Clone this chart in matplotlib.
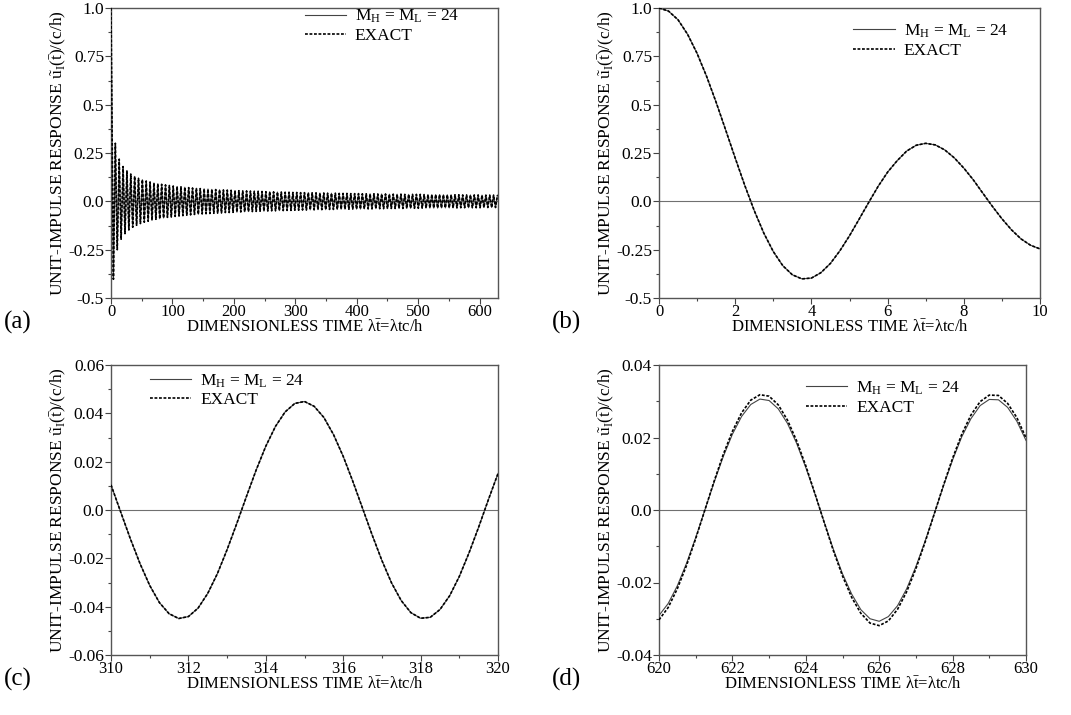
import numpy as np
import matplotlib
matplotlib.use("Agg")
import matplotlib.pyplot as plt
from matplotlib.ticker import MultipleLocator, FixedLocator, FixedFormatter

plt.rcParams['font.family'] = 'Liberation Serif'
plt.rcParams['mathtext.fontset'] = 'custom'
plt.rcParams['mathtext.rm'] = 'Liberation Serif'
plt.rcParams['mathtext.it'] = 'Liberation Serif:italic'
plt.rcParams['font.size'] = 12.5

W, H = 1071, 715

# (a) long run 0..630: start value, then successive peaks/troughs of the response
a_u = [1.000,
    -0.403, 0.300, -0.250, 0.218, -0.196, 0.180, -0.167, 0.157, -0.148, 0.141,
    -0.134, 0.129, -0.124, 0.119, -0.115, 0.112, -0.108, 0.105, -0.103, 0.100,
    -0.098, 0.095, -0.093, 0.091, -0.090, 0.088, -0.086, 0.085, -0.083, 0.082,
    -0.081, 0.079, -0.078, 0.077, -0.076, 0.075, -0.074, 0.073, -0.072, 0.071,
    -0.070, 0.069, -0.068, 0.068, -0.067, 0.066, -0.065, 0.065, -0.064, 0.064,
    -0.063, 0.062, -0.062, 0.061, -0.061, 0.060, -0.060, 0.059, -0.058, 0.058,
    -0.058, 0.057, -0.057, 0.056, -0.056, 0.055, -0.055, 0.054, -0.054, 0.054,
    -0.053, 0.053, -0.053, 0.052, -0.052, 0.052, -0.051, 0.051, -0.051, 0.050,
    -0.050, 0.050, -0.049, 0.049, -0.049, 0.048, -0.048, 0.048, -0.048, 0.047,
    -0.047, 0.047, -0.047, 0.046, -0.046, 0.046, -0.046, 0.045, -0.045, 0.045,
    -0.045, 0.045, -0.044, 0.044, -0.044, 0.044, -0.043, 0.043, -0.043, 0.043,
    -0.043, 0.042, -0.042, 0.042, -0.042, 0.042, -0.042, 0.041, -0.041, 0.041,
    -0.041, 0.041, -0.041, 0.040, -0.040, 0.040, -0.040, 0.040, -0.040, 0.039,
    -0.039, 0.039, -0.039, 0.039, -0.039, 0.039, -0.038, 0.038, -0.038, 0.038,
    -0.038, 0.038, -0.038, 0.037, -0.037, 0.037, -0.037, 0.037, -0.037, 0.037,
    -0.037, 0.036, -0.036, 0.036, -0.036, 0.036, -0.036, 0.036, -0.036, 0.036,
    -0.035, 0.035, -0.035, 0.035, -0.035, 0.035, -0.035, 0.035, -0.035, 0.035,
    -0.034, 0.034, -0.034, 0.034, -0.034, 0.034, -0.034, 0.034, -0.034, 0.034,
    -0.033, 0.033, -0.033, 0.033, -0.033, 0.033, -0.033, 0.033, -0.033, 0.033,
    -0.033, 0.032, -0.032, 0.032, -0.032, 0.032, -0.032, 0.032, -0.032, 0.032]
a_t = np.concatenate([[0.0], np.linspace(3.93, 629.1, len(a_u) - 1)])

# (b) early response 0..10
b_t = np.linspace(0, 10, 41)
b_u = [1.000, 0.984, 0.939, 0.864, 0.765, 0.646, 0.512, 0.369, 0.224, 0.083,
       -0.048, -0.164, -0.260, -0.333, -0.380, -0.401, -0.397, -0.369, -0.321, -0.255,
       -0.178, -0.093, -0.007, 0.077, 0.151, 0.210, 0.260, 0.290, 0.300, 0.292,
       0.266, 0.225, 0.172, 0.111, 0.042, -0.026, -0.090, -0.147, -0.194, -0.227,
       -0.246]

# (c) 310..320
c_t = np.linspace(310, 320, 41)
c_u = [0.0104, -0.0008, -0.0119, -0.0222, -0.0312, -0.0383, -0.0429, -0.0449, -0.0441, -0.0406,
       -0.0345, -0.0263, -0.0164, -0.0056, 0.0056, 0.0165, 0.0264, 0.0346, 0.0406, 0.0441,
       0.0449, 0.0429, 0.0383, 0.0312, 0.0222, 0.0118, 0.0007, -0.0104, -0.0209, -0.0302,
       -0.0375, -0.0425, -0.0448, -0.0444, -0.0412, -0.0355, -0.0275, -0.0178, -0.0071, 0.0042,
       0.0151]

# (d) 620..630, approximation and exact differ slightly at the extremes
d_t = np.linspace(620, 630, 41)
d_exact = [-0.0303, -0.0269, -0.0217, -0.0153, -0.0079, 0.0000, 0.0079, 0.0153, 0.0217, 0.0268,
           0.0303, 0.0318, 0.0314, 0.0290, 0.0248, 0.0191, 0.0122, 0.0045, -0.0034, -0.0112,
           -0.0182, -0.0241, -0.0285, -0.0312, -0.0319, -0.0306, -0.0274, -0.0225, -0.0162, -0.0089,
           -0.0011, 0.0068, 0.0143, 0.0209, 0.0262, 0.0299, 0.0317, 0.0316, 0.0294, 0.0255,
           0.0199]
d_m24 = [-0.0291, -0.0258, -0.0209, -0.0147, -0.0076, 0.0000, 0.0076, 0.0147, 0.0209, 0.0258,
         0.0291, 0.0306, 0.0302, 0.0279, 0.0239, 0.0184, 0.0117, 0.0044, -0.0033, -0.0108,
         -0.0176, -0.0232, -0.0275, -0.0300, -0.0307, -0.0294, -0.0264, -0.0217, -0.0156, -0.0086,
         -0.0010, 0.0066, 0.0138, 0.0202, 0.0252, 0.0288, 0.0305, 0.0304, 0.0283, 0.0245,
         0.0192]

yticks_ab = [-0.5, -0.25, 0.0, 0.25, 0.5, 0.75, 1.0]
ylabels_ab = ['-0.5', '-0.25', '0.0', '0.25', '0.5', '0.75', '1.0']
yticks_c = [-0.06, -0.04, -0.02, 0.0, 0.02, 0.04, 0.06]
ylabels_c = ['-0.06', '-0.04', '-0.02', '0.0', '0.02', '0.04', '0.06']
yticks_d = [-0.04, -0.02, 0.0, 0.02, 0.04]
ylabels_d = ['-0.04', '-0.02', '0.0', '0.02', '0.04']

lab_m24 = r'M$_\mathrm{H}$ = M$_\mathrm{L}$ = 24'
lab_exact = 'EXACT'
xlab = r'DIMENSIONLESS TIME $\mathrm{\lambda\bar{t}}$=$\mathrm{\lambda}$tc/h'
ylab = r'UNIT-IMPULSE RESPONSE $\mathrm{\tilde{u}_I(\bar{t})}$/(c/h)'

fig = plt.figure(figsize=(W / 100, H / 100), dpi=100)


def box(left, top, right, bottom):
    return [left / W, 1 - bottom / H, (right - left) / W, (bottom - top) / H]


def panel(rect, t, u_m24, u_exact, xlim, xmaj, xmin, yticks, ylabels, ymin, letter, leg_xy):
    ax = fig.add_axes(rect)
    ax.axhline(0, color='#707070', lw=0.8, zorder=1)
    ax.plot(t, u_m24, color='#444444', lw=0.8, label=lab_m24, zorder=2)
    ax.plot(t, u_exact, color='black', lw=1.2, ls=(0, (1.7, 1.0)), label=lab_exact, zorder=3)
    ax.set_xlim(*xlim)
    ax.set_ylim(yticks[0], yticks[-1])
    ax.xaxis.set_major_locator(MultipleLocator(xmaj))
    ax.xaxis.set_minor_locator(MultipleLocator(xmin))
    ax.yaxis.set_major_locator(FixedLocator(yticks))
    ax.yaxis.set_major_formatter(FixedFormatter(ylabels))
    ax.yaxis.set_minor_locator(MultipleLocator(ymin))
    ax.tick_params(which='major', direction='out', length=4, width=0.8, pad=1, colors='#444444',
                   labelcolor='black', labelsize=12.5)
    ax.tick_params(axis='x', which='major', pad=0.5, labelsize=12)
    ax.tick_params(which='minor', direction='out', length=2.5, width=0.8, colors='#444444')
    for s in ax.spines.values():
        s.set_color('#555555')
        s.set_linewidth(1.0)
    ax.set_xlabel(xlab, labelpad=-0.5, fontsize=12)
    ax.set_ylabel(ylab, labelpad=-1)
    ax.legend(loc='upper left', bbox_to_anchor=leg_xy, frameon=False, borderpad=0,
              borderaxespad=0, handlelength=2.4, handletextpad=0.5, labelspacing=0.15,
              fontsize=12.5)
    pos = ax.get_position()
    fig.text(4 / W + (pos.x0 - 111 / W), pos.y0 - 24 / H, letter, fontsize=18, va='center')
    return ax


panel(box(111, 8, 498, 298), a_t, a_u, a_u, (0, 630), 100, 50,
      yticks_ab, ylabels_ab, 0.125, '(a)', (0.50, 1.0))
panel(box(659, 8, 1040, 298), b_t, b_u, b_u, (0, 10), 2, 1,
      yticks_ab, ylabels_ab, 0.125, '(b)', (0.51, 0.95))
panel(box(111, 365, 498, 655), c_t, c_u, c_u, (310, 320), 2, 1,
      yticks_c, ylabels_c, 0.01, '(c)', (0.10, 0.975))
panel(box(659, 365, 1026, 655), d_t, d_m24, d_exact, (620, 630), 2, 1,
      yticks_d, ylabels_d, 0.01, '(d)', (0.40, 0.95))

fig.savefig('out.png', dpi=100)
